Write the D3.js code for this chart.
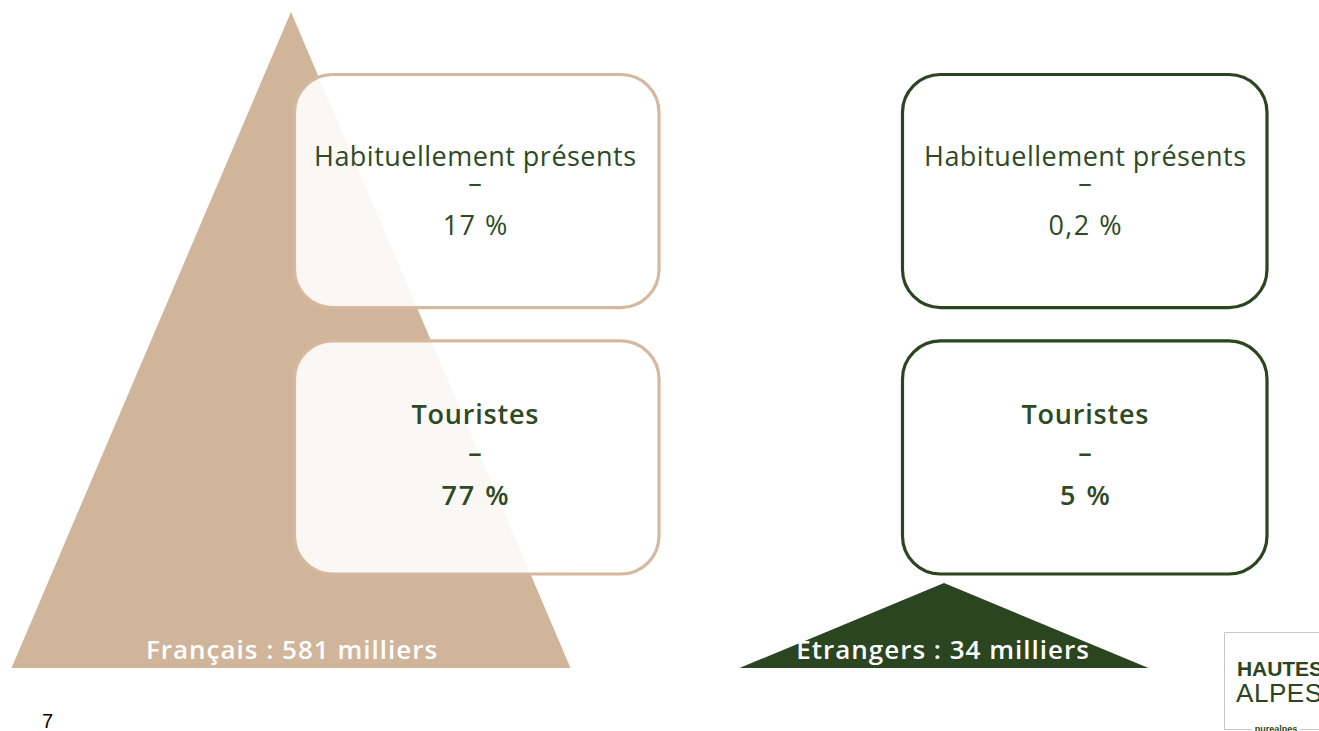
<!DOCTYPE html>
<html><head><meta charset="utf-8">
<script src="https://cdn.jsdelivr.net/npm/d3@7"></script>
<style>html,body{margin:0;padding:0;background:#fff;overflow:hidden}</style>
</head><body>
<svg id="c" width="1319" height="731"></svg>
<script>
// ---- data ----
const groups = ["Français", "Etrangers"];
const totals = [581, 34];                       // milliers
const groupLabels = ["Français : 581 milliers", "Etrangers : 34 milliers"];
const categories = ["Habituellement présents", "Touristes"];
const shareFr = ["17 %", "77 %"];
const shareEt = ["0,2 %", "5 %"];
const pageNumber = "7";

// ---- styles / layout ----
const tan = "#d1b59b", tanStroke = "#d5b99f", green = "#2b4520", textGreen = "#2e4a24";
const colors = [tan, green];
const strokes = [tanStroke, green];
const font = "'Open Sans', 'Noto Sans', sans-serif";

const svg = d3.select("#c");

// triangle scales
const baseY = 668;
const hScale = d3.scalePow().exponent(0.72).domain([0, 581]).range([0, 656]);
const wScale = d3.scalePow().exponent(0.11).domain([0, 581]).range([0, 559]);
const cx = d3.scaleOrdinal().domain(groups).range([291, 944]);

groups.forEach((g, i) => {
  const h = hScale(totals[i]), w = wScale(totals[i]), c = cx(g);
  svg.append("path")
    .attr("d", d3.line()([[c, baseY - h], [c + w / 2, baseY], [c - w / 2, baseY]]) + "Z")
    .attr("fill", colors[i]);
});

// boxes
const boxX = d3.scaleOrdinal().domain(groups).range([294.5, 902.5]);
const boxY = d3.scaleBand().domain(categories).range([74.5, 574]).paddingInner(0.125);
const boxW = 364.5;
const shares = [shareFr, shareEt];
const boxCx = [475, 1085];

groups.forEach((g, gi) => {
  categories.forEach((cat, ci) => {
    const y0 = boxY(cat);
    svg.append("rect")
      .attr("x", boxX(g)).attr("y", y0)
      .attr("width", boxW).attr("height", boxY.bandwidth())
      .attr("rx", 38).attr("ry", 38)
      .attr("fill", "#fff").attr("fill-opacity", gi === 0 ? 0.89 : 1)
      .attr("stroke", strokes[gi]).attr("stroke-width", 3.2);
    const bold = ci === 1;
    const t = svg.append("g").attr("fill", textGreen)
      .attr("text-anchor", "middle").attr("font-family", font).attr("font-size", 27);
    if (!bold) {
      t.append("text").attr("x", boxCx[gi]).attr("y", y0 + 91).text(cat)
        .attr("textLength", 322).attr("lengthAdjust", "spacing");
      t.append("text").attr("x", boxCx[gi]).attr("y", y0 + 117.5).text("–");
      t.append("text").attr("x", boxCx[gi] + 0.75).attr("y", y0 + 160.5).text(shares[gi][ci])
        .attr("letter-spacing", 1.5);
    } else {
      t.attr("font-weight", 600);
      t.append("text").attr("x", boxCx[gi] + 0.4).attr("y", y0 + 83).text(cat)
        .attr("letter-spacing", 0.8);
      t.append("text").attr("x", boxCx[gi]).attr("y", y0 + 121).text("–");
      t.append("text").attr("x", boxCx[gi] + 1).attr("y", y0 + 164).text(shares[gi][ci])
        .attr("letter-spacing", 2);
    }
  });
});

// group labels
groups.forEach((g, i) => {
  svg.append("text")
    .attr("x", i === 0 ? 292 : 943).attr("y", 659)
    .attr("text-anchor", "middle").attr("fill", "#fff")
    .attr("font-family", font).attr("font-size", 26).attr("font-weight", 600)
    .attr("letter-spacing", 1)
    .text(groupLabels[i]);
});

// page number
svg.append("text").attr("x", 42).attr("y", 728)
  .attr("font-family", "Arial, 'Liberation Sans', sans-serif").attr("font-size", 20)
  .attr("fill", "#000").text(pageNumber);

// logo
const logo = svg.append("g");
logo.append("path").attr("d", "M1330,632.5 H1224.5 V729.5 H1252 M1300 729.5 H1330")
  .attr("fill", "none").attr("stroke", "#c8c8c8").attr("stroke-width", 1);
logo.append("text").attr("x", 1237).attr("y", 676)
  .attr("font-family", "'Liberation Sans', Arial, sans-serif").attr("font-weight", 700)
  .attr("font-size", 21).attr("fill", "#2b4520").attr("textLength", 86).text("HAUTES");
logo.append("text").attr("x", 1236).attr("y", 702)
  .attr("font-family", "'Liberation Sans', Arial, sans-serif").attr("font-weight", 300)
  .attr("font-size", 26).attr("fill", "#2b4520").attr("textLength", 86).text("ALPES");
logo.append("text").attr("x", 1276).attr("y", 732).attr("text-anchor", "middle")
  .attr("font-family", "'Liberation Sans', Arial, sans-serif").attr("font-weight", 700)
  .attr("font-size", 9).attr("fill", "#2b4520").text("purealpes");
</script>
</body></html>
